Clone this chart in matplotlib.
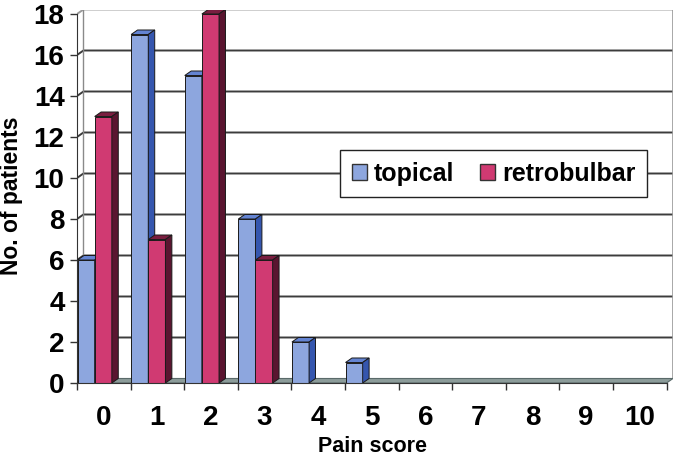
import matplotlib
matplotlib.use("Agg")
import matplotlib.pyplot as plt
from matplotlib.patches import Polygon, Patch

categories = ["0", "1", "2", "3", "4", "5", "6", "7", "8", "9", "10"]
topical = [6, 17, 15, 8, 2, 1, 0, 0, 0, 0, 0]
retrobulbar = [13, 7, 18, 6, 0, 0, 0, 0, 0, 0, 0]
yticks = [0, 2, 4, 6, 8, 10, 12, 14, 16, 18]

plt.rcParams['font.family'] = ['Liberation Sans', 'DejaVu Sans']

fig = plt.figure(figsize=(6.77, 4.62), dpi=100)
dx, dy = 0.12, 0.22
ax = fig.add_axes([77/677, 79/462, 596/677, 373.5/462])
n = len(categories)
ax.set_xlim(-0.5, n - 0.5 + dx)
ax.set_ylim(0, 18 + dy)

# back wall gridlines
for y in yticks[1:]:
    col = '#9a9a9a' if y == 18 else '#3c3c3c'
    ax.plot([-0.5, -0.5 + dx, n - 0.5 + dx], [y, y + dy, y + dy], color=col, lw=1.4, zorder=1,
            solid_capstyle='butt')
# wall edges
ax.plot([-0.5 + dx, -0.5 + dx], [dy, 18 + dy], color='#8a8a8a', lw=1.0, zorder=1)
ax.plot([n - 0.5 + dx, n - 0.5 + dx], [dy, 18 + dy], color='#9a9a9a', lw=1.2, zorder=1)

# floor
floor = Polygon([(-0.5, 0), (n - 0.5, 0), (n - 0.5 + dx, dy), (-0.5 + dx, dy)], closed=True,
                facecolor='#8c9c9a', edgecolor='#5a6a6a', lw=0.8, zorder=2)
ax.add_patch(floor)

w = 0.32
series = [
    (topical, -0.49, ('#8DA6DE', '#6484D2', '#3556AE')),
    (retrobulbar, -0.17, ('#D03A72', '#7A1E40', '#5A1530')),
]

def draw_bar(x0, h, cols, z):
    front, top, side = cols
    ax.add_patch(Polygon([(x0, 0), (x0 + w, 0), (x0 + w, h), (x0, h)], closed=True,
                         facecolor=front, edgecolor='#1a1a1a', lw=0.7, zorder=z))
    ax.add_patch(Polygon([(x0, h), (x0 + w, h), (x0 + w + dx, h + dy), (x0 + dx, h + dy)], closed=True,
                         facecolor=top, edgecolor='#1a1a1a', lw=0.7, zorder=z))
    ax.add_patch(Polygon([(x0 + w, 0), (x0 + w + dx, dy), (x0 + w + dx, h + dy), (x0 + w, h)], closed=True,
                         facecolor=side, edgecolor='#1a1a1a', lw=0.7, zorder=z))

z = 3
for i in range(n):
    for vals, off, cols in series:
        if vals[i] > 0:
            draw_bar(i + off, vals[i], cols, z)
        z += 1

# axes styling
for s in ['top', 'right']:
    ax.spines[s].set_visible(False)
ax.spines['left'].set_bounds(0, 18)
ax.spines['bottom'].set_bounds(-0.5, n - 0.5)
ax.spines['left'].set_color('#333333')
ax.spines['bottom'].set_color('#333333')
ax.spines['bottom'].set_zorder(50)

ax.set_yticks(yticks)
ax.set_yticklabels([str(v) for v in yticks], fontsize=20, fontweight='bold')
ax.tick_params(axis='y', direction='out', length=5, width=1, pad=4, color='#333333')

ax.set_xticks(range(n))
ax.set_xticklabels(categories, fontsize=20, fontweight='bold')
ax.set_xticks([i - 0.5 for i in range(n + 1)], minor=True)
ax.tick_params(axis='x', which='major', length=0, pad=16)
ax.tick_params(axis='x', which='minor', direction='out', length=5, width=1, color='#333333')

fig.text(12/677, 1 - 196/462, 'No. of patients', rotation=90, ha='center', va='center',
         fontsize=16.5, fontweight='bold')
fig.text(372/677, 1 - 447/462, 'Pain score', ha='center', va='center', fontsize=15.5, fontweight='bold')

handles = [Patch(facecolor='#8DA6DE', edgecolor='#333333', label='topical'),
           Patch(facecolor='#D03A72', edgecolor='#333333', label='retrobulbar')]
leg = fig.legend(handles=handles, loc='center', bbox_to_anchor=(493.5/677, 1 - 173.5/462), ncol=2,
                 frameon=True, fancybox=False, shadow=False, prop={'weight': 'bold', 'size': 18},
                 handlelength=0.6, handleheight=0.6, handletextpad=0.3, columnspacing=1.0,
                 borderpad=0.45, edgecolor='#222222', framealpha=1)
leg.get_frame().set_linewidth(1.0)

fig.savefig('out.png', dpi=100)
